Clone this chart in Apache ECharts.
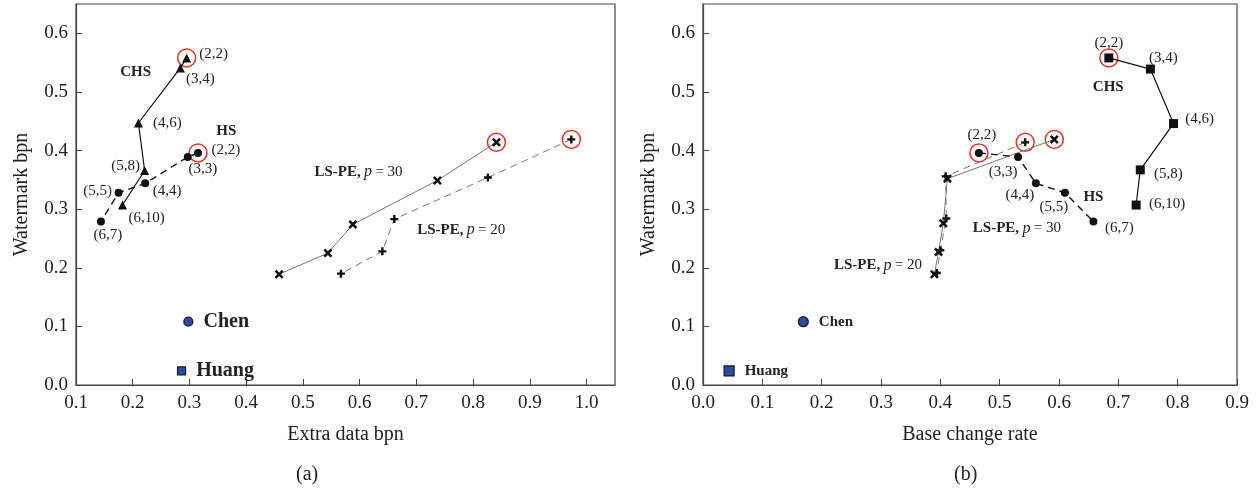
<!DOCTYPE html>
<html>
<head>
<meta charset="utf-8">
<script src="https://cdn.jsdelivr.net/npm/echarts@6/dist/echarts.min.js"></script>
<style>
html, body { margin: 0; padding: 0; background: #fff; }
#main { width: 1260px; height: 490px; }
</style>
</head>
<body>
<div id="main"></div>
<script>
// (a) extra data bpn vs watermark bpn
var leftChsX = [0.295, 0.284, 0.210, 0.221, 0.182];
var leftChsY = [0.558, 0.541, 0.447, 0.366, 0.307];
var leftHsX = [0.315, 0.297, 0.222, 0.175, 0.144];
var leftHsY = [0.396, 0.389, 0.344, 0.328, 0.279];
var leftP30X = [0.841, 0.737, 0.588, 0.544, 0.458];
var leftP30Y = [0.414, 0.349, 0.274, 0.225, 0.189];
var leftP20X = [0.973, 0.826, 0.661, 0.640, 0.567];
var leftP20Y = [0.419, 0.354, 0.283, 0.228, 0.190];
var leftChen = [0.298, 0.108];
var leftHuang = [0.286, 0.024];

// (b) base change rate vs watermark bpn
var rightChsX = [0.684, 0.754, 0.793, 0.737, 0.730];
var rightChsY = [0.558, 0.539, 0.446, 0.367, 0.307];
var rightHsX = [0.465, 0.531, 0.561, 0.610, 0.658];
var rightHsY = [0.396, 0.389, 0.344, 0.328, 0.279];
var rightP30X = [0.592, 0.412, 0.405, 0.397, 0.390];
var rightP30Y = [0.419, 0.352, 0.276, 0.227, 0.189];
var rightP20X = [0.543, 0.409, 0.410, 0.400, 0.394];
var rightP20Y = [0.414, 0.356, 0.284, 0.230, 0.191];
var rightChen = [0.169, 0.108];
var rightHuang = [0.044, 0.024];

var chsTags = ['(2,2)', '(3,4)', '(4,6)', '(5,8)', '(6,10)'];
var hsTags = ['(2,2)', '(3,3)', '(4,4)', '(5,5)', '(6,7)'];

var FONT = 'Liberation Serif';
var crossPath = 'path://M2,0 L5,3 L8,0 L10,2 L7,5 L10,8 L8,10 L5,7 L2,10 L0,8 L3,5 L0,2 Z';
var plusPath = 'path://M3.5,0 H6.5 V3.5 H10 V6.5 H6.5 V10 H3.5 V6.5 H0 V3.5 H3.5 Z';

// label offsets (px) for the parameter tags
var leftChsOff = [[27, -4], [20, 11], [29, 0], [-19, -4], [24, 13]];
var leftHsOff = [[28, -3], [15, 12], [22, 8], [-21, -2], [7, 14]];
var rightChsOff = [[0, -15], [13, -11], [26, -5], [28, 4], [31, -1]];
var rightHsOff = [[3, -18], [-15, 15], [-16, 12], [-11, 14], [26, 7]];

function pts(xs, ys, tags, offs) {
	return xs.map(function(x, i) {
		var item = { value: [x, ys[i]] };
		if (tags) {
			item.label = {
				show: true, position: 'inside', formatter: tags[i], offset: offs[i],
				fontFamily: FONT, fontSize: 15, color: '#222', textBorderWidth: 0
			};
		}
		return item;
	});
}

function lineSeries(idx, data, symbol, size, lineColor, dashed, width) {
	return {
		type: 'line', xAxisIndex: idx, yAxisIndex: idx, data: data,
		symbol: symbol, symbolSize: size, showSymbol: true, z: 3,
		itemStyle: { color: '#111', opacity: 1 },
		lineStyle: { color: lineColor, width: width, type: dashed ? [7, 5] : 'solid' },
		label: { show: false }, animation: false
	};
}

var rich = {
	b: { fontFamily: FONT, fontWeight: 'bold', fontSize: 15, color: '#222' },
	i: { fontFamily: FONT, fontStyle: 'italic', fontSize: 16, color: '#222' },
	n: { fontFamily: FONT, fontSize: 15, color: '#222' }
};

function notes(idx, list) {
	return {
		type: 'scatter', xAxisIndex: idx, yAxisIndex: idx, symbolSize: 1, z: 5,
		itemStyle: { color: 'rgba(0,0,0,0)', opacity: 1 },
		data: list.map(function(n) {
			return { value: n[0], label: { show: true, position: 'inside', formatter: n[1], rich: rich,
				color: '#222', textBorderWidth: 0 } };
		}),
		animation: false
	};
}

function rings(idx, list) {
	return {
		type: 'scatter', xAxisIndex: idx, yAxisIndex: idx, symbol: 'circle', symbolSize: 18, z: 2,
		itemStyle: { color: 'rgba(0,0,0,0)', borderColor: '#e53228', borderWidth: 1.5, opacity: 1 },
		data: list, animation: false
	};
}

function single(idx, p, symbol, size, name, fs) {
	return {
		type: 'scatter', xAxisIndex: idx, yAxisIndex: idx, symbol: symbol, symbolSize: size, z: 4,
		itemStyle: { color: '#2b4b9e', borderColor: '#15182a', borderWidth: 1.2, opacity: 1 },
		label: { show: true, position: 'right', distance: 10, formatter: name,
			fontFamily: FONT, fontWeight: 'bold', fontSize: fs, color: '#222' },
		data: [p], animation: false
	};
}

function xAxisCfg(idx, min, max, name) {
	return {
		type: 'value', gridIndex: idx, min: min, max: max, interval: 0.1,
		name: name, nameLocation: 'middle', nameGap: 40,
		nameTextStyle: { fontFamily: FONT, fontSize: 20, color: '#222' },
		axisLine: { lineStyle: { color: '#444', width: 1.2 } },
		axisTick: { inside: true, length: 6, lineStyle: { color: '#444' } },
		axisLabel: { fontFamily: FONT, fontSize: 19, color: '#222', margin: 9, showMaxLabel: max === 0.9,
			formatter: function(v) { return v.toFixed(1); } },
		splitLine: { show: false }
	};
}

function yAxisCfg(idx) {
	return {
		type: 'value', gridIndex: idx, min: 0, max: 0.65, interval: 0.1,
		name: 'Watermark bpn', nameLocation: 'middle', nameGap: 44,
		nameTextStyle: { fontFamily: FONT, fontSize: 20, color: '#222' },
		axisLine: { lineStyle: { color: '#444', width: 1.2 } },
		axisTick: { inside: true, length: 6, lineStyle: { color: '#444' } },
		axisLabel: { fontFamily: FONT, fontSize: 19, color: '#222', margin: 8, showMaxLabel: false,
			formatter: function(v) { return v.toFixed(1); } },
		splitLine: { show: false }
	};
}

var myChart = echarts.init(document.getElementById('main'));
var option = {
	backgroundColor: '#fff',
	animation: false,
	grid: [
		{ left: 76, right: 645, top: 4, bottom: 105, show: true, borderColor: '#444', borderWidth: 1.2 },
		{ left: 703, right: 23, top: 4, bottom: 105, show: true, borderColor: '#444', borderWidth: 1.2 }
	],
	xAxis: [xAxisCfg(0, 0.1, 1.05, 'Extra data bpn'), xAxisCfg(1, 0, 0.9, 'Base change rate')],
	yAxis: [yAxisCfg(0), yAxisCfg(1)],
	graphic: [
		{ type: 'text', left: 296, top: 465, style: { text: '(a)', font: '20px "Liberation Serif"', fill: '#222' } },
		{ type: 'text', left: 954, top: 465, style: { text: '(b)', font: '20px "Liberation Serif"', fill: '#222' } }
	],
	series: [
		lineSeries(0, pts(leftP30X, leftP30Y), crossPath, 9, '#777', false, 1),
		lineSeries(0, pts(leftP20X, leftP20Y), plusPath, 8, '#777', true, 1),
		lineSeries(0, pts(leftChsX, leftChsY, chsTags, leftChsOff), 'triangle', 9, '#111', false, 1.2),
		lineSeries(0, pts(leftHsX, leftHsY, hsTags, leftHsOff), 'circle', 8, '#111', true, 1.4),
		rings(0, [[leftChsX[0], leftChsY[0]], [leftHsX[0], leftHsY[0]], [leftP30X[0], leftP30Y[0]], [leftP20X[0], leftP20Y[0]]]),
		single(0, leftChen, 'circle', 9, 'Chen', 20),
		single(0, leftHuang, 'rect', 8, 'Huang', 20),
		notes(0, [
			[[0.205, 0.533], '{b|CHS}'],
			[[0.365, 0.433], '{b|HS}'],
			[[0.598, 0.363], '{b|LS-PE,} {i|p} {n|= 30}'],
			[[0.779, 0.264], '{b|LS-PE,} {i|p} {n|= 20}']
		]),

		lineSeries(1, pts(rightP30X, rightP30Y), crossPath, 9, '#777', false, 1),
		lineSeries(1, pts(rightP20X, rightP20Y), plusPath, 8, '#777', true, 1),
		lineSeries(1, pts(rightChsX, rightChsY, chsTags, rightChsOff), 'rect', 9, '#111', false, 1.2),
		lineSeries(1, pts(rightHsX, rightHsY, hsTags, rightHsOff), 'circle', 8, '#111', true, 1.4),
		rings(1, [[rightChsX[0], rightChsY[0]], [rightHsX[0], rightHsY[0]], [rightP30X[0], rightP30Y[0]], [rightP20X[0], rightP20Y[0]]]),
		single(1, rightChen, 'circle', 10, 'Chen', 15),
		single(1, rightHuang, 'rect', 10, 'Huang', 15),
		notes(1, [
			[[0.683, 0.509], '{b|CHS}'],
			[[0.658, 0.320], '{b|HS}'],
			[[0.529, 0.267], '{b|LS-PE,} {i|p} {n|= 30}'],
			[[0.295, 0.204], '{b|LS-PE,} {i|p} {n|= 20}']
		])
	]
};
myChart.setOption(option);
</script>
</body>
</html>
